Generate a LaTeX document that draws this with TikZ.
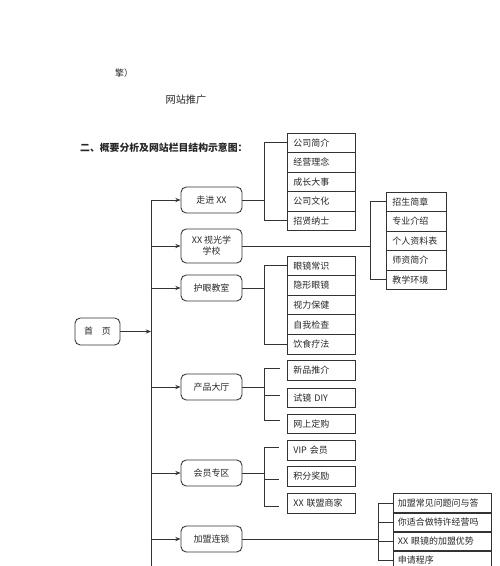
\documentclass[tikz,border=0pt]{standalone}
\usepackage{fontspec}
\setmainfont{Noto Sans CJK SC}
\usepackage{tikz}
\usetikzlibrary{arrows.meta, positioning}

\tikzset{
  txt/.style={font=\fontsize{5.1}{6.3}\selectfont, text=black!85},
  lvlbox/.style={txt, draw=black!80, line width=0.5pt, rounded corners=3pt,
    minimum width=1.22cm, minimum height=0.52cm, inner sep=1pt, align=center},
  itembox/.style={txt, draw=black!80, line width=0.5pt, anchor=west,
    minimum height=0.39cm, inner ysep=0pt, inner xsep=0.12cm,
    text width=1.12cm, align=left},
  link/.style={draw=black!80, line width=0.5pt},
  feed/.style={link, -{Stealth[length=3pt, width=2.4pt]}}
}

\begin{document}
\begin{tikzpicture}[x=0.02cm, y=-0.02cm]
        \useasboundingbox (0,0) rectangle (500,566);
        \clip (0,0) rectangle (500,566);

        % Page text above the chart
        \node[txt, anchor=west] (cont) at (109,73) {擎）};
        \node[txt, font=\fontsize{5.8}{7}\selectfont] (seo) at (186,100) {网站推广};
        \node[txt, anchor=west, font=\fontsize{5.6}{7}\selectfont\bfseries] (heading) at (74,148)
          {二、概要分析及网站栏目结构示意图：};

        % Home page and trunk
        \node[lvlbox, minimum width=0.9cm, minimum height=0.54cm] (home) at (97.5,331.5) {首\quad 页};
        \coordinate (trunktop) at (151,200);
        \coordinate (trunkbot) at (151,580);
        \draw[link] (trunktop) -- (trunkbot);
        \draw[feed] (home.east) -- (home.east -| trunktop);

        % First level sections
        \node[lvlbox] (zoujin) at (211.5,200) {走进 XX};
        \node[lvlbox, minimum height=0.68cm] (xuexiao) at (211.5,246) {XX 视光学\\学校};
        \node[lvlbox] (huyan) at (211.5,288) {护眼教室};
        \node[lvlbox] (chanpin) at (211.5,387) {产品大厅};
        \node[lvlbox] (huiyuan) at (211.5,473) {会员专区};
        \node[lvlbox] (jiameng) at (211.5,539) {加盟连锁};

        \draw[feed] (zoujin.west -| trunktop) -- (zoujin.west);
        \draw[feed] (xuexiao.west -| trunktop) -- (xuexiao.west);
        \draw[feed] (huyan.west -| trunktop) -- (huyan.west);
        \draw[feed] (chanpin.west -| trunktop) -- (chanpin.west);
        \draw[feed] (huiyuan.west -| trunktop) -- (huiyuan.west);
        \draw[feed] (jiameng.west -| trunktop) -- (jiameng.west);

        % Zoujin XX
        \node[itembox] (zj1) at (287,142.75) {公司简介};
        \node[itembox] (zj2) at (287,162.25) {经营理念};
        \node[itembox] (zj3) at (287,181.75) {成长大事};
        \node[itembox] (zj4) at (287,201.25) {公司文化};
        \node[itembox] (zj5) at (287,220.75) {招贤纳士};
        \path (zoujin.east) ++(22,0) coordinate (zjfork);
        \draw[link] (zoujin.east) -- (zjfork);
        \draw[link] (zj1.west) -| (zjfork) |- (zj5.west);

        % School
        \node[itembox, text width=0.96cm] (xx1) at (386,201.75) {招生简章};
        \node[itembox, text width=0.96cm] (xx2) at (386,221.25) {专业介绍};
        \node[itembox, text width=0.96cm] (xx3) at (386,240.75) {个人资料表};
        \node[itembox, text width=0.96cm] (xx4) at (386,260.25) {师资简介};
        \node[itembox, text width=0.96cm] (xx5) at (386,279.75) {教学环境};
        \path (xuexiao.east) ++(128,0) coordinate (xxfork);
        \draw[link] (xuexiao.east) -- (xxfork);
        \draw[link] (xx1.west) -| (xxfork) |- (xx5.west);

        % Eye care
        \node[itembox] (hy1) at (287,265.8) {眼镜常识};
        \node[itembox] (hy2) at (287,285.4) {隐形眼镜};
        \node[itembox] (hy3) at (287,305) {视力保健};
        \node[itembox] (hy4) at (287,324.6) {自我检查};
        \node[itembox] (hy5) at (287,344.2) {饮食疗法};
        \path (huyan.east) ++(22,0) coordinate (hyfork);
        \draw[link] (huyan.east) -- (hyfork);
        \draw[link] (hy1.west) -| (hyfork) |- (hy5.west);

        % Products
        \node[itembox] (cp1) at (287,370.5) {新品推介};
        \node[itembox] (cp2) at (287,398) {试镜 DIY};
        \node[itembox] (cp3) at (287,424) {网上定购};
        \path (chanpin.east) ++(22,0) coordinate (cpfork);
        \path (cp1.west) ++(-7,-2) coordinate (cpend1);
        \path (cp2.west) ++(-7,-3) coordinate (cpend2);
        \path (cp3.west) ++(-7,-4) coordinate (cpend3);
        \draw[link] (chanpin.east) -- (cpfork);
        \draw[link] (cpend1) -| (cpfork) |- (cpend3);
        \draw[link] (cpfork |- cpend2) -- (cpend2);

        % Members
        \node[itembox] (mb1) at (287,450.5) {VIP 会员};
        \node[itembox] (mb2) at (287,476.5) {积分奖励};
        \node[itembox] (mb3) at (287,503.5) {XX 联盟商家};
        \path (huiyuan.east) ++(22,0) coordinate (mbfork);
        \path (mb1.west) ++(-8,-3) coordinate (mbend1);
        \path (mb2.west) ++(-8,3) coordinate (mbend2);
        \path (mb3.west) ++(-8,3) coordinate (mbend3);
        \draw[link] (huiyuan.east) -- (mbfork);
        \draw[link] (mbend1) -| (mbfork) |- (mbend3);
        \draw[link] (mbfork |- mbend2) -- (mbend2);

        % Franchise
        \node[itembox, text width=1.78cm, inner xsep=0.09cm] (jm1) at (393,503.5) {加盟常见问题问与答};
        \node[itembox, text width=1.78cm, inner xsep=0.09cm] (jm2) at (393,522.5) {你适合做特许经营吗};
        \node[itembox, text width=1.78cm, inner xsep=0.09cm] (jm3) at (393,541.5) {XX 眼镜的加盟优势};
        \node[itembox, text width=1.78cm, inner xsep=0.09cm] (jm4) at (393,560.5) {申请程序};
        \path (jiameng.east) ++(136,0) coordinate (jmfork);
        \draw[link] (jiameng.east) -- (jmfork);
        \draw[link] (jm1.west) -| (jmfork) |- (jm4.west);
        \draw[link] (jmfork |- jm2.west) -- (jm2.west);
        \draw[link] (jmfork |- jm3.west) -- (jm3.west);
      \end{tikzpicture}
\end{document}
